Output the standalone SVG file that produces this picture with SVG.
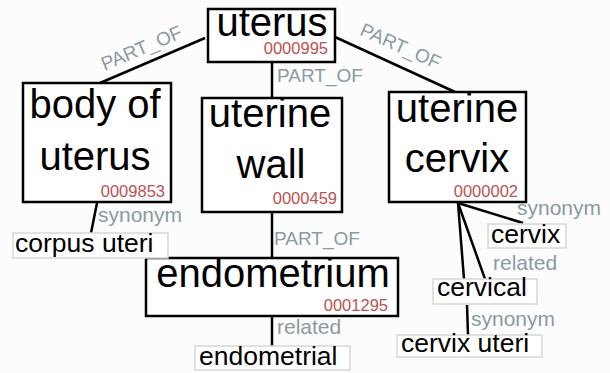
<svg xmlns="http://www.w3.org/2000/svg" width="610" height="373" viewBox="0 0 610 373">
<style>
.box{fill:#ffffff;stroke:#000000;stroke-width:2.5}
.leaf{fill:#ffffff;stroke:#d6d6d6;stroke-width:1.5}
.big{font-family:"Liberation Sans",Arial,sans-serif;font-size:40px;fill:#000000;text-anchor:middle}
.id{font-family:"Liberation Sans",Arial,sans-serif;font-size:16.5px;fill:#c0504d;text-anchor:end}
.lt{font-family:"Liberation Sans",Arial,sans-serif;font-size:26.5px;fill:#000000}
.el{font-family:"Liberation Sans",Arial,sans-serif;font-size:21px;fill:#8a9aa2}
.pe{font-size:19px}
.conn line{stroke:#000000;stroke-width:2.5;fill:none}
</style>
<rect width="610" height="373" fill="#fcfcfd"/>
<g id="connectors" class="conn">
<line x1="205" y1="38" x2="100" y2="83"/>
<line x1="335" y1="37" x2="455" y2="92"/>
<line x1="272" y1="62" x2="272" y2="98"/>
<line x1="272" y1="212" x2="272" y2="258"/>
<line x1="272" y1="316" x2="272" y2="346"/>
<line x1="97" y1="203" x2="91" y2="233"/>
<line x1="458" y1="203" x2="523" y2="223"/>
<line x1="458" y1="203" x2="485" y2="279"/>
<line x1="458" y1="203" x2="464" y2="279"/>
<line x1="467" y1="305" x2="468" y2="335"/>
</g>
<g id="edge-labels">
<text class="el pe" x="144" y="54" text-anchor="middle" transform="rotate(-23 144 54)">PART_OF</text>
<text class="el pe" x="398" y="52" text-anchor="middle" transform="rotate(24 398 52)">PART_OF</text>
<text class="el pe" x="277" y="82">PART_OF</text>
<text class="el pe" x="274" y="245">PART_OF</text>
<text class="el" x="277" y="334">related</text>
<text class="el" x="98" y="222">synonym</text>
<text class="el" x="517" y="215">synonym</text>
<text class="el" x="493" y="270">related</text>
<text class="el" x="471" y="326">synonym</text>
</g>
<g id="node-uterus">
<rect class="box" x="208" y="9" width="127" height="53"/>
<text class="big" x="272" y="36">uterus</text>
<text class="id" x="328" y="54">0000995</text>
</g>
<g id="node-body-of-uterus">
<rect class="box" x="23" y="83" width="148" height="119"/>
<text class="big" x="95" y="118">body of</text>
<text class="big" x="95" y="170">uterus</text>
<text class="id" x="165" y="197">0009853</text>
</g>
<g id="node-uterine-wall">
<rect class="box" x="202" y="98" width="140" height="114"/>
<text class="big" x="270" y="127">uterine</text>
<text class="big" x="271" y="178">wall</text>
<text class="id" x="337" y="204">0000459</text>
</g>
<g id="node-uterine-cervix">
<rect class="box" x="389" y="92" width="137" height="110"/>
<text class="big" x="457" y="122">uterine</text>
<text class="big" x="457" y="172">cervix</text>
<text class="id" x="518" y="197">0000002</text>
</g>
<g id="node-endometrium">
<rect class="box" x="146" y="258" width="252" height="58"/>
<text class="big" x="273" y="287">endometrium</text>
<text class="id" x="388" y="311">0001295</text>
</g>
<g id="leaf-corpus-uteri">
<rect class="leaf" x="13" y="233" width="155" height="25"/>
<text class="lt" x="15" y="252">corpus uteri</text>
</g>
<g id="leaf-endometrial">
<rect class="leaf" x="195" y="346" width="155" height="24"/>
<text class="lt" x="199" y="365">endometrial</text>
</g>
<g id="leaf-cervix">
<rect class="leaf" x="488" y="224" width="78" height="24"/>
<text class="lt" x="491" y="243">cervix</text>
</g>
<g id="leaf-cervical">
<rect class="leaf" x="433" y="279" width="104" height="25"/>
<text class="lt" x="437" y="296">cervical</text>
</g>
<g id="leaf-cervix-uteri">
<rect class="leaf" x="397" y="335" width="145" height="22"/>
<text class="lt" x="401" y="352">cervix uteri</text>
</g>
</svg>
